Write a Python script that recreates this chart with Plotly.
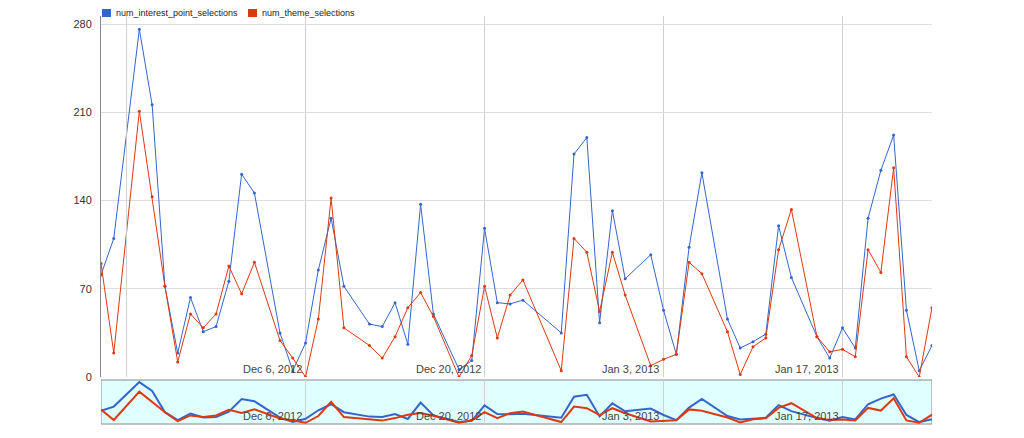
import datetime as dt
import plotly.graph_objects as go

start = dt.date(2012, 11, 20)
days = [0, 1, 3, 4, 5, 6, 7, 8, 9, 10, 11, 12, 14, 15, 16, 17, 18, 19, 21, 22, 23, 24, 25, 26,
        28, 29, 30, 31, 32, 33, 36, 37, 38, 39, 40, 41, 43, 44, 45, 46, 47, 49, 50, 51, 52, 53,
        54, 56, 57, 58, 59, 60, 61, 62, 63, 64, 65]
interest = [81, 110, 276, 216, 72, 19, 63, 36, 40, 76, 161, 146, 35, 5, 27, 85, 126, 72, 42, 40,
            59, 26, 137, 50, 6, 13, 118, 59, 58, 61, 35, 177, 190, 43, 132, 78, 97, 53, 18, 103,
            162, 46, 23, 28, 34, 120, 79, 32, 15, 39, 23, 126, 164, 192, 53, 5, 25]
theme = [90, 19, 211, 143, 72, 12, 50, 39, 50, 88, 66, 91, 29, 15, 0, 46, 142, 39, 25, 15, 32,
         55, 67, 48, 0, 17, 72, 31, 65, 77, 5, 110, 99, 52, 99, 65, 9, 14, 18, 91, 82, 36, 2,
         24, 31, 101, 133, 32, 20, 22, 16, 101, 83, 166, 16, 0, 55]
series_names = ["num_interest_point_selections", "num_theme_selections"]
label_dates = ["2012-12-06", "2012-12-20", "2013-01-03", "2013-01-17"]
label_text = ["Dec 6, 2012", "Dec 20, 2012", "Jan 3, 2013", "Jan 17, 2013"]

dates = [start + dt.timedelta(days=d) for d in days]
blue, red = "#3366cc", "#dc3912"

fig = go.Figure()
for vals, col in [(interest, blue), (theme, red)]:
    fig.add_trace(go.Scatter(x=dates, y=vals, mode="lines+markers", showlegend=False,
                             line=dict(color=col, width=1), marker=dict(color=col, size=3)))
    fig.add_trace(go.Scatter(x=dates, y=vals, mode="lines", showlegend=False, yaxis="y2",
                             line=dict(color=col, width=2)))

x0 = dt.datetime(2012, 11, 20)
x1 = dt.datetime(2013, 1, 24)
fig.update_layout(
    width=1024, height=438, margin=dict(l=93, r=100, t=8, b=22, autoexpand=False),
    plot_bgcolor="white", paper_bgcolor="white", showlegend=False,
    font=dict(family="Arial, Liberation Sans", size=11, color="#333"),
    xaxis=dict(range=[x0, x1], showticklabels=False, tickvals=label_dates, showgrid=True,
               gridcolor="#d0d0d0", zeroline=False, showline=False),
    yaxis=dict(domain=[0.1152, 1], range=[0, 286.5], tickvals=[0, 70, 140, 210, 280],
               gridcolor="#dddddd", zeroline=False, showline=True, linecolor="#888",
               ticks="", ticklabelstandoff=6),
    yaxis2=dict(domain=[0, 0.1078], range=[-8, 290], showticklabels=False, showgrid=False,
                zeroline=False),
)
fig.add_shape(type="rect", xref="x", yref="y2 domain", x0=x0, x1=x1, y0=0, y1=1,
              fillcolor="#e0ffff", line=dict(color="#888", width=1), layer="below")
fig.add_shape(type="line", xref="x", yref="paper", x0=dt.datetime(2012, 11, 22),
              x1=dt.datetime(2012, 11, 22), y0=0.1152, y1=1, line=dict(color="#d0d0d0", width=1))

# legend drawn by hand just above the plot
pw, ph = 831, 408
for px, col, name in [(1, blue, series_names[0]), (147, red, series_names[1])]:
    fig.add_shape(type="rect", xref="paper", yref="paper", x0=px / pw, x1=(px + 9) / pw,
                  y0=1 - 1 / ph, y1=1 + 7 / ph, fillcolor=col, line=dict(width=0))
    fig.add_annotation(x=(px + 12) / pw, y=1 + 3 / ph, xref="paper", yref="paper", text=name,
                       showarrow=False, xanchor="left", yanchor="middle",
                       font=dict(size=9, color="#222"))

for d, t in zip(label_dates, label_text):
    for yy in [0.1152, 0.0]:
        fig.add_annotation(x=d, y=yy, xref="x", yref="paper", text=t, showarrow=False,
                           xanchor="right", yanchor="bottom", xshift=-2,
                           font=dict(size=11, color="#444"))
fig.write_html("out.html")
